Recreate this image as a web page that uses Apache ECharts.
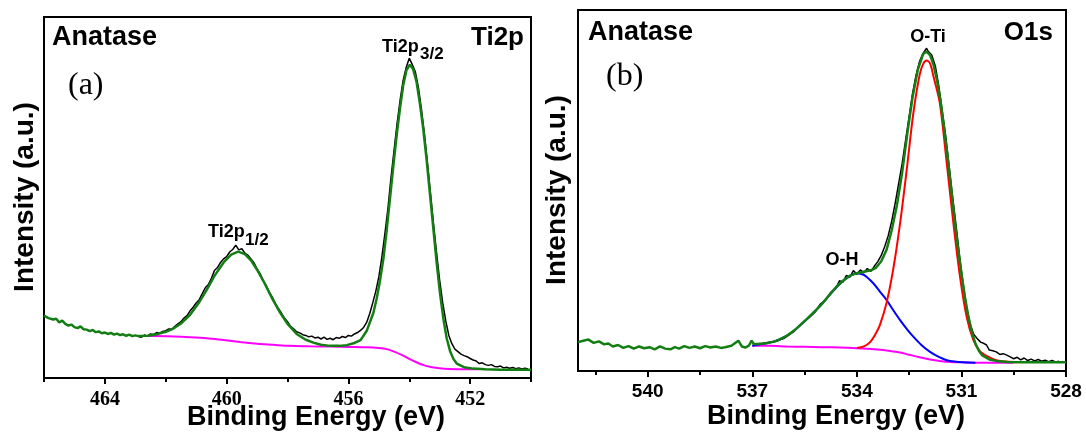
<!DOCTYPE html>
<html>
<head>
<meta charset="utf-8">
<script src="https://cdn.jsdelivr.net/npm/echarts@6/dist/echarts.min.js"></script>
<style>html,body{margin:0;padding:0;background:#fff}#c{width:1086px;height:436px}</style>
</head>
<body>
<div id="c"></div>
<script>
// ---------- Panel (a): Ti2p ----------
const tiMajorTicks = [452, 456, 460, 464];
const tiMinorTicks = [450, 454, 458, 462, 466];
const tiData = [
[462.9,11.5],[462.8,11.3],[462.7,11.9],[462.6,11.6],[462.5,12.2],[462.4,12.0],[462.3,12.6],[462.2,12.4],[462.1,12.9],[462.0,13.1],
[461.9,13.6],[461.8,13.5],[461.7,14.3],[461.6,15.0],[461.5,15.6],[461.4,16.6],[461.3,17.3],[461.2,18.6],[461.1,19.6],[461.0,20.8],
[460.9,21.7],[460.8,23.4],[460.7,25.0],[460.6,25.9],[460.5,27.6],[460.4,29.8],[460.3,30.6],[460.2,32.0],[460.1,33.0],[460.0,33.6],
[459.9,34.9],[459.8,35.6],[459.7,36.8],[459.6,35.5],[459.5,35.8],[459.4,34.6],[459.3,34.0],[459.2,33.0],[459.1,31.9],[459.0,30.2],
[458.9,28.9],[458.8,27.0],[458.7,25.6],[458.6,23.8],[458.5,22.4],[458.4,20.6],[458.3,19.3],[458.2,18.0],[458.1,16.6],[458.0,15.6],
[457.9,14.3],[457.8,13.6],[457.7,12.8],[457.6,12.5],[457.5,12.0],[457.4,11.8],[457.3,11.4],[457.2,11.6],[457.1,11.1],[457.0,11.3],
[456.9,10.8],[456.8,11.3],[456.7,10.7],[456.6,11.0],[456.5,10.6],[456.4,11.2],[456.3,11.0],[456.2,11.5],[456.1,11.2],[456.0,11.8],
[455.9,11.6],[455.8,12.2],[455.7,12.6],[455.6,13.2],[455.5,14.0],[455.4,15.4],[455.3,17.8],[455.2,20.8],[455.1,24.0],[455.0,28.0],
[454.9,33.5],[454.8,40.0],[454.7,47.0],[454.6,55.5],[454.5,63.0],[454.4,70.5],[454.3,77.0],[454.2,82.5],[454.1,86.0],[454.0,88.6],
[453.9,86.8],[453.8,84.8],[453.7,80.5],[453.6,74.5],[453.5,67.5],[453.4,59.5],[453.3,51.0],[453.2,42.5],[453.1,34.5],[453.0,27.0],
[452.9,20.8],[452.8,15.8],[452.7,11.8],[452.6,9.5],[452.5,8.0],[452.4,7.3],[452.3,6.6],[452.2,6.2],[452.1,5.9],[452.0,5.4],
[451.9,5.0],[451.8,4.7],[451.7,4.0],[451.6,4.2],[451.5,3.7],[451.4,3.5],[451.3,3.7],[451.2,3.2],[451.1,3.1],[451.0,3.3],
[450.9,2.8],[450.8,3.0],[450.7,2.7],[450.6,2.9],[450.5,2.6],[450.4,2.8],[450.3,2.5],[450.2,2.7],[450.1,2.5]
];
const tiEnvelope = [
[466.0,17.3],[465.85,16.6],[465.7,16.2],[465.6,16.4],[465.5,15.4],[465.4,15.9],[465.3,15.0],[465.2,14.5],[465.1,14.8],[465.0,14.1],
[464.9,13.8],[464.8,14.3],[464.7,13.5],[464.6,13.4],[464.5,13.0],[464.4,13.3],[464.3,12.7],[464.2,12.9],[464.1,12.4],[464.0,12.6],
[463.9,12.2],[463.8,12.5],[463.7,12.0],[463.6,12.3],[463.5,11.9],[463.4,12.1],[463.3,11.7],[463.2,12.0],[463.1,11.6],[463.0,11.8],
[462.9,11.6],[462.6,11.7],[462.3,12.1],[462.0,12.8],[461.75,13.7],[461.5,15.1],[461.2,17.5],[460.9,21.0],[460.65,24.5],[460.4,28.3],
[460.1,32.0],[459.85,34.2],[459.62,35.0],[459.4,34.3],[459.2,32.6],[459.0,30.0],[458.8,27.0],[458.5,22.0],[458.25,18.2],[458.0,15.0],
[457.7,12.2],[457.4,10.6],[457.15,9.8],[456.9,9.2],[456.6,8.9],[456.3,8.9],[456.05,9.1],[455.8,9.7],[455.6,10.5],[455.4,13.0],
[455.29,15.5],[455.18,18.0],[455.07,22.0],[454.96,27.0],[454.85,33.0],[454.74,41.0],[454.63,50.0],[454.52,59.0],[454.41,67.5],[454.3,75.0],
[454.2,81.0],[454.09,85.3],[453.98,86.8],[453.87,85.5],[453.76,82.0],[453.65,76.0],[453.54,69.0],[453.43,60.5],[453.32,51.0],[453.21,41.5],
[453.1,32.0],[452.99,23.5],[452.88,16.5],[452.77,11.0],[452.66,7.5],[452.55,5.3],[452.44,4.0],[452.2,3.0],[451.9,2.6],[451.5,2.4],
[451.0,2.3],[450.0,2.3]
];
const tiBackground = [
[462.9,11.6],[462.4,11.6],[461.75,11.5],[461.2,11.3],[460.65,11.0],[460.1,10.5],[459.56,10.0],[459.0,9.5],[458.47,9.2],[457.92,8.9],
[457.3,8.8],[456.6,8.7],[456.0,8.6],[455.4,8.5],[455.0,8.3],[454.74,8.0],[454.5,7.3],[454.25,6.4],[454.0,5.3],[453.75,4.3],
[453.5,3.5],[453.25,3.0],[453.0,2.7],[452.7,2.5],[452.2,2.4],[451.7,2.4]
];

// ---------- Panel (b): O1s ----------
const oMajorTicks = [528, 531, 534, 537, 540];
const oMinorTicks = [529.5, 532.5, 535.5, 538.5, 541.5];
const oData = [
[536.85,7.4],[536.7,7.6],[536.55,7.9],[536.4,8.1],[536.25,8.6],[536.1,9.0],[535.95,10.0],[535.8,11.0],[535.65,12.6],[535.5,13.8],
[535.35,15.0],[535.2,16.3],[535.05,18.5],[534.9,19.6],[534.75,21.8],[534.6,23.0],[534.5,25.0],[534.4,24.6],[534.3,26.5],[534.2,26.0],
[534.1,27.8],[534.0,26.8],[533.9,28.0],[533.8,27.2],[533.7,28.4],[533.6,27.6],[533.5,29.0],[533.4,30.3],[533.3,32.0],[533.2,34.5],
[533.1,37.5],[533.0,41.5],[532.9,46.5],[532.8,52.0],[532.7,57.5],[532.6,64.0],[532.5,70.5],[532.4,77.0],[532.3,82.0],[532.2,85.8],
[532.1,88.0],[532.0,89.4],[531.95,88.5],[531.85,87.5],[531.75,84.5],[531.65,79.0],[531.55,72.0],[531.45,65.0],[531.35,56.5],[531.25,48.0],
[531.15,40.0],[531.05,31.5],[530.95,24.0],[530.85,17.5],[530.75,13.0],[530.65,10.2],[530.55,9.0],[530.45,8.0],[530.35,7.6],[530.28,7.2],
[530.2,5.8],[530.1,5.6],[530.0,5.3],[529.9,4.6],[529.8,4.8],[529.7,4.4],[529.6,3.9],[529.5,3.4],[529.4,3.8],[529.3,3.1],
[529.2,3.6],[529.1,2.9],[529.0,3.3],[528.9,2.8],[528.8,3.2],[528.7,2.7],[528.6,3.0],[528.5,2.6],[528.4,2.9],[528.3,2.5],[528.2,2.7]
];
const oEnvelope = [
[542.0,8.0],[541.85,8.4],[541.7,8.7],[541.55,7.8],[541.4,8.2],[541.25,7.4],[541.13,7.6],[541.0,6.8],[540.85,7.2],[540.7,6.4],
[540.55,6.9],[540.4,6.2],[540.25,6.8],[540.1,6.3],[539.95,6.6],[539.8,6.0],[539.65,6.8],[539.5,6.2],[539.35,6.0],[539.22,6.6],
[539.1,6.2],[538.95,6.9],[538.8,6.4],[538.65,6.8],[538.5,6.3],[538.35,6.9],[538.2,6.5],[538.05,6.8],[537.9,6.4],[537.78,6.6],
[537.6,7.0],[537.4,8.4],[537.3,6.8],[537.2,6.5],[537.1,7.0],[537.02,8.4],[536.95,7.4],[536.85,7.5],
[536.6,7.7],[536.35,8.2],[536.2,8.8],[536.0,9.8],[535.8,11.2],[535.6,12.9],[535.4,14.7],[535.2,16.6],[535.0,18.6],[534.8,20.9],
[534.6,23.2],[534.4,25.0],[534.2,26.4],[534.0,27.1],[533.8,27.5],[533.6,27.9],[533.45,28.6],[533.3,30.4],[533.15,33.5],[533.0,39.0],
[532.85,46.0],[532.7,55.0],[532.55,66.0],[532.4,76.0],[532.25,83.5],[532.1,87.8],[532.0,88.5],[531.9,87.5],[531.8,84.8],[531.7,80.5],
[531.6,74.8],[531.5,67.5],[531.4,59.5],[531.3,51.0],[531.2,42.3],[531.1,34.2],[531.0,27.0],[530.9,20.5],[530.8,15.0],[530.7,10.8],
[530.6,7.6],[530.5,5.6],[530.4,4.3],[530.2,3.2],[530.0,2.8],[529.7,2.5],[529.3,2.4],[529.0,2.4],[528.5,2.4],[528.0,2.4]
];
const oTiComponent = [
[534.0,6.4],[533.8,6.8],[533.62,8.0],[533.45,10.5],[533.34,12.7],[533.15,18.8],[532.96,28.0],[532.76,40.9],[532.57,55.7],[532.38,71.4],
[532.2,82.0],[532.1,85.0],[532.0,86.0],[531.9,85.2],[531.8,81.5],[531.62,74.2],[531.42,57.5],[531.23,40.9],[531.04,26.1],[530.85,15.0],
[530.66,8.6],[530.47,5.5],[530.28,4.2],[530.0,3.0],[529.7,2.6],[529.4,2.4]
];
const ohComponent = [
[537.0,7.0],[536.6,7.7],[536.35,8.2],[536.2,8.8],[536.0,9.8],[535.8,11.2],[535.6,12.9],[535.4,14.7],[535.2,16.6],[535.0,18.6],
[534.8,20.9],[534.6,23.0],[534.4,24.9],[534.2,26.3],[534.0,27.1],[533.8,26.6],[533.53,24.3],[533.34,22.0],[533.15,19.7],[532.96,16.9],
[532.76,14.1],[532.57,11.7],[532.38,9.5],[532.15,7.2],[531.9,5.3],[531.65,3.9],[531.42,3.0],[531.2,2.6],[530.95,2.4],[530.6,2.3]
];
const oBackground = [
[537.0,7.0],[536.5,7.0],[536.0,6.8],[535.5,6.7],[535.0,6.6],[534.5,6.5],[534.0,6.3],[533.5,6.0],[533.0,5.5],[532.76,5.1],
[532.5,4.5],[532.2,3.8],[531.9,3.2],[531.62,2.8],[531.3,2.5],[531.0,2.4],[530.5,2.3],[530.0,2.3],[529.5,2.3]
];

const SANS = '"Liberation Sans", Arial, sans-serif';
const SERIF = '"Liberation Serif", "Times New Roman", serif';

function xMain(grid, min, max, ticks, font, size, margin) {
  return {
    gridIndex: grid, type: 'value', min: min, max: max, inverse: true, position: 'bottom',
    axisLine: { show: true, lineStyle: { color: '#000', width: 2 } },
    axisTick: { show: true, customValues: ticks, length: 6, lineStyle: { color: '#000', width: 2 } },
    axisLabel: { show: true, customValues: ticks, margin: margin, color: '#000', fontFamily: font, fontSize: size, fontWeight: 'bold' },
    splitLine: { show: false }
  };
}
function xMinor(grid, min, max, ticks) {
  return {
    gridIndex: grid, type: 'value', min: min, max: max, inverse: true, position: 'bottom',
    axisLine: { show: false },
    axisTick: { show: true, customValues: ticks, length: 4, lineStyle: { color: '#000', width: 2 } },
    axisLabel: { show: false },
    splitLine: { show: false }
  };
}
function yAx(grid) {
  return {
    gridIndex: grid, type: 'value', min: 0, max: 100,
    axisLine: { show: false }, axisTick: { show: false }, axisLabel: { show: false }, splitLine: { show: false }
  };
}
function line(name, data, xi, color, width, smooth) {
  return {
    name: name, type: 'line', xAxisIndex: xi, yAxisIndex: xi === 0 ? 0 : 1,
    data: data, showSymbol: false, symbol: 'none', smooth: smooth ? 0.3 : false,
    lineStyle: { color: color, width: width }, silent: true
  };
}
function txt(x, y, text, size, opts) {
  opts = opts || {};
  return {
    type: 'text', x: x, y: y, rotation: opts.rot || 0, z: 100,
    style: {
      text: text, fill: '#000', align: opts.align || 'left', verticalAlign: 'middle',
      font: (opts.weight || 'bold') + ' ' + size + 'px ' + (opts.family || SANS)
    }
  };
}

const chart = echarts.init(document.getElementById('c'), null, { renderer: 'canvas' });
chart.setOption({
  animation: false,
  backgroundColor: '#fff',
  grid: [
    { left: 44, top: 17, width: 487, height: 361, show: true, borderColor: '#000', borderWidth: 2, backgroundColor: 'transparent' },
    { left: 578, top: 10, width: 488, height: 361, show: true, borderColor: '#000', borderWidth: 2, backgroundColor: 'transparent' }
  ],
  xAxis: [
    xMain(0, 450, 466, tiMajorTicks, SERIF, 20, 12),
    xMain(1, 528, 542, oMajorTicks, SANS, 19, 11),
    xMinor(0, 450, 466, tiMinorTicks),
    xMinor(1, 528, 542, oMinorTicks)
  ],
  yAxis: [yAx(0), yAx(1)],
  series: [
    line('Ti data', tiData, 0, '#000000', 1.5, false),
    line('Ti background', tiBackground, 0, '#ff00ff', 2, true),
    line('Ti envelope', tiEnvelope, 0, '#137f13', 2.5, false),
    line('O data', oData, 1, '#000000', 1.5, false),
    line('O background', oBackground, 1, '#ff00ff', 2, true),
    line('O-H', ohComponent, 1, '#0000ff', 2, true),
    line('O-Ti', oTiComponent, 1, '#ff0000', 2, true),
    line('O envelope', oEnvelope, 1, '#137f13', 2.5, false)
  ],
  graphic: [
    txt(52, 38, 'Anatase', 27),
    txt(524, 38, 'Ti2p', 26, { align: 'right' }),
    txt(68, 86, '(a)', 32, { weight: 'normal', family: SERIF }),
    txt(382, 47, 'Ti2p', 18),
    txt(420, 54, '3/2', 17),
    txt(208, 232, 'Ti2p', 18),
    txt(245, 240, '1/2', 17),
    txt(25, 197, 'Intensity (a.u.)', 28, { align: 'center', rot: Math.PI / 2 }),
    txt(316, 418, 'Binding Energy (eV)', 27, { align: 'center' }),
    txt(588, 33, 'Anatase', 27),
    txt(1053, 33, 'O1s', 26, { align: 'right' }),
    txt(606, 77, '(b)', 32, { weight: 'normal', family: SERIF }),
    txt(928, 37, 'O-Ti', 18, { align: 'center' }),
    txt(842, 260, 'O-H', 18, { align: 'center' }),
    txt(557, 190, 'Intensity (a.u.)', 28, { align: 'center', rot: Math.PI / 2 }),
    txt(836, 417, 'Binding Energy (eV)', 27, { align: 'center' })
  ]
});
</script>
</body>
</html>
